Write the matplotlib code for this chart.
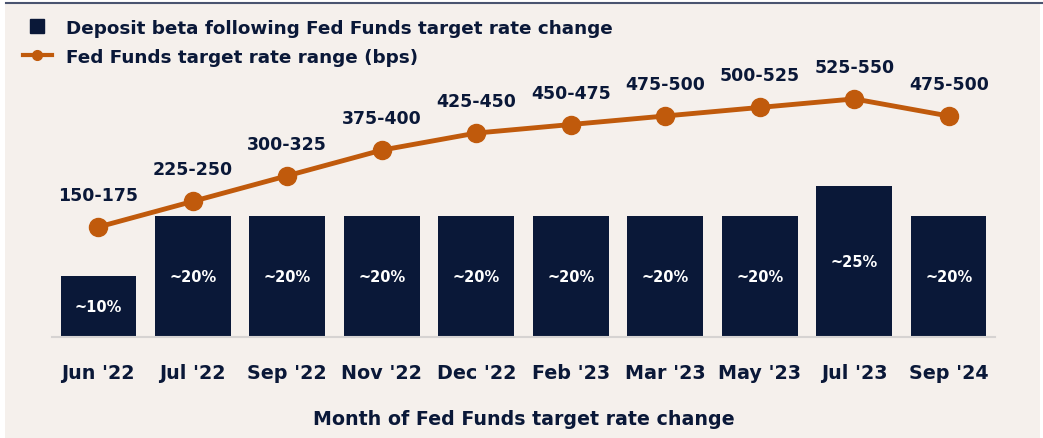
import numpy as np
import matplotlib.pyplot as plt
from matplotlib.lines import Line2D
from matplotlib.patches import Rectangle

# dati
mesi = ["Jun '22", "Jul '22", "Sep '22", "Nov '22", "Dec '22", "Feb '23",
        "Mar '23", "May '23", "Jul '23", "Sep '24"]
beta = [10, 20, 20, 20, 20, 20, 20, 20, 25, 20]
beta_lab = ['~10%', '~20%', '~20%', '~20%', '~20%', '~20%', '~20%', '~20%', '~25%', '~20%']
fed_low = [150, 225, 300, 375, 425, 450, 475, 500, 525, 475]
fed_high = [175, 250, 325, 400, 450, 475, 500, 525, 550, 500]

navy = '#0a1838'
arancio = '#c05a0c'
sfondo = '#f5f0ec'

plt.rcParams['font.family'] = ['DejaVu Sans']

W, H = 1043, 439
fig = plt.figure(figsize=(W/100, H/100), dpi=100, facecolor='white')
fig.add_artist(Rectangle((5/W, 0), 1035/W, 1-5/H, transform=fig.transFigure,
                         facecolor=sfondo, edgecolor='none', zorder=0))
fig.add_artist(Line2D([6/W, 1], [1-4/H, 1-4/H], transform=fig.transFigure,
                      color='#4a5470', lw=1.5))

# asse principale (barre)
x0, x1, ytop, ybot = 52, 995, 35, 338
ax = fig.add_axes([x0/W, 1-ybot/H, (x1-x0)/W, (ybot-ytop)/H])
ax.set_facecolor('none')
x = np.arange(len(mesi))
ax.bar(x, beta, width=0.8, color=navy, zorder=2)
for xi, b, lab in zip(x, beta, beta_lab):
    ax.text(xi, b/2, lab, ha='center', va='center', color='white',
            fontsize=10.5, fontweight='bold', zorder=3)
ax.set_xlim(-0.49, 9.49)
ax.set_ylim(0, 50)
for s in ['top', 'right', 'left']:
    ax.spines[s].set_visible(False)
ax.spines['bottom'].set_color('#d6d3d2')
ax.spines['bottom'].set_linewidth(1.5)
ax.set_yticks([])
ax.set_xticks(x)
ax.set_xticklabels(mesi, fontsize=13.8, fontweight='bold', color=navy)
ax.tick_params(axis='x', length=0, pad=19)
ax.set_xlabel('Month of Fed Funds target rate change', fontsize=13.7,
              fontweight='bold', color=navy, labelpad=19)

# asse secondario (linea)
ax2 = ax.twinx()
ax2.plot(x, fed_high, color=arancio, lw=3.5, marker='o', markersize=13, zorder=4)
ax2.set_ylim(-147, 740)
ax2.axis('off')
for xi, lo, hi in zip(x, fed_low, fed_high):
    ax2.annotate(f'{lo}-{hi}', (xi, hi), xytext=(0, 23), textcoords='offset points',
                 ha='center', va='center', fontsize=12.5, fontweight='bold', color=navy)

# legenda
handles = [Line2D([], [], marker='s', linestyle='none', color=navy, markersize=10),
           Line2D([], [], marker='o', color=arancio, lw=3, markersize=7)]
fig.legend(handles, ['Deposit beta following Fed Funds target rate change',
                     'Fed Funds target rate range (bps)'],
           loc='upper left', bbox_to_anchor=(6/W, 1-3/H), frameon=False,
           handlelength=1.6, handletextpad=0.8, labelspacing=0.6,
           prop={'size': 13.2, 'weight': 'bold'}, labelcolor=navy)

plt.savefig('out.png', dpi=100, facecolor='white')
